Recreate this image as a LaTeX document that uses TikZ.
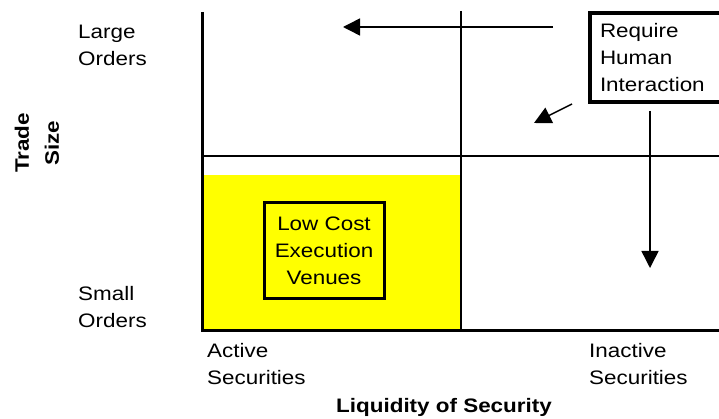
\documentclass[tikz,border=0pt]{standalone}
\usepackage{fontspec}
\setmainfont{Liberation Sans}[FakeStretch=1.15]
\usepackage{tikz}
\usetikzlibrary{arrows.meta}

\definecolor{venue}{HTML}{FFFF00}

\tikzset{
    axis/.style={line width=3pt},
    grid/.style={line width=1.5pt},
    lbl/.style={align=left, inner sep=0pt, anchor=north west},
    note/.style={draw=black, line width=3pt, align=center},
    pointer/.style={line width=1.5pt, -{Triangle[length=17pt, width=17pt]}}
}

\begin{document}
\begin{tikzpicture}[x=1pt, y=-1pt, every node/.style={font=\fontsize{19.5}{27}\selectfont}]
    \useasboundingbox (0,0) rectangle (719,419);
    \clip (0,0) rectangle (719,419);

    % cheap corner of the chart
    \fill[venue] (204,175) rectangle (460,329);

    \coordinate (O) at (202,330);
    \coordinate (top) at (202,12);
    \coordinate (right) at (722,330);
    \draw[grid] (461,11) -- (461,330);
    \draw[grid] (204,156) -- (722,156);
    \draw[axis] (top) -- (O) -- (right);

    \node[note, minimum width=120pt, minimum height=95pt] (venues) at (324,250.5) {Low Cost\\Execution\\Venues};
    \node[note, line width=4pt, anchor=north west, minimum width=160pt, minimum height=89pt,
          text width=140pt, align=left, inner xsep=6pt] (human) at (588,11) {Require\\Human\\Interaction};

    \coordinate (a1s) at (553,27);
    \coordinate (a1e) at (343,27);
    \coordinate (a2s) at (572,104);
    \coordinate (a2e) at (534,123);
    \coordinate (a3s) at (650,111);
    \coordinate (a3e) at (650,268);
    \draw[pointer] (a1s) -- (a1e);
    \draw[pointer] (a2s) -- (a2e);
    \draw[pointer] (a3s) -- (a3e);

    \node[lbl] (large) at (78,25) {Large\\Orders};
    \node[lbl] (small) at (78,286) {Small\\Orders};
    \node[lbl] (active) at (207,343) {Active\\Securities};
    \node[lbl] (inactive) at (589,343) {Inactive\\Securities};
    \node[font=\fontsize{19.5}{27}\selectfont\bfseries, inner sep=0pt, anchor=north] (liq) at (444,398) {Liquidity of Security};
    \node[font=\fontsize{19.5}{30}\selectfont\bfseries, align=center, rotate=90] (size) at (37,143) {Trade\\Size};
\end{tikzpicture}
\end{document}
